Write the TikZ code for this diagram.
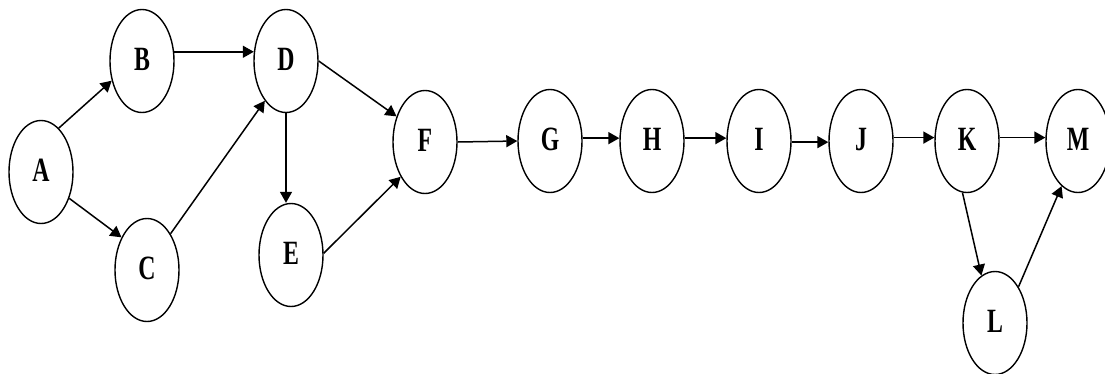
\documentclass[tikz,border=0pt]{standalone}
\usepackage{fontspec}
\setmainfont{Liberation Serif}
\usepackage{graphicx}
\usetikzlibrary{shapes.geometric,arrows.meta}
\newcommand{\lbl}[1]{\raisebox{4pt}{\scalebox{0.7}[1]{\fontsize{34}{34}\selectfont\bfseries #1}}}
\begin{document}
\begin{tikzpicture}[x=1pt,y=-1pt,
  vtx/.style={ellipse,draw,line width=1.4pt,minimum width=64pt,minimum height=103pt,inner sep=0pt},
  edge/.style={line width=1.5pt,-{Triangle[length=11pt,width=12pt]}}]
\useasboundingbox (0,0) rectangle (1105,373);
\node[vtx] (A) at (41,172) {\lbl{A}};
\node[vtx] (B) at (142,61) {\lbl{B}};
\node[vtx] (C) at (147,270) {\lbl{C}};
\node[vtx] (D) at (286,61) {\lbl{D}};
\node[vtx] (E) at (291,255) {\lbl{E}};
\node[vtx] (F) at (425,142) {\lbl{F}};
\node[vtx] (G) at (550,141) {\lbl{G}};
\node[vtx] (H) at (652,141) {\lbl{H}};
\node[vtx] (I) at (759,141) {\lbl{I}};
\node[vtx] (J) at (861,141) {\lbl{J}};
\node[vtx] (K) at (967,141) {\lbl{K}};
\node[vtx] (M) at (1078,141) {\lbl{M}};
\node[vtx] (L) at (995,323) {\lbl{L}};
\draw[edge] (A.68) -- (B.213);
\draw[edge] (A.-43) -- (C.128);
\draw[edge] (B.16) -- (D.164);
\draw[edge] (C.57) -- (D.242);
\draw[edge] (D.0) -- (F.138);
\draw[edge] (D.south) -- (D.south |- E.north);
\draw[edge] (E.3) -- (F.235);
\draw[edge] (F.east) -- (G.west);
\draw[edge] (G.5) -- (H.175);
\draw[edge] (H.5) -- (I.175);
\draw[edge] (I.-2) -- (J.182);
\draw[edge] (J.6) -- (K.174);
\draw[edge] (K.6) -- (M.174);
\draw[edge] (K.265) -- (L.106);
\draw[edge] (L.57) -- (M.250);
\end{tikzpicture}
\end{document}
